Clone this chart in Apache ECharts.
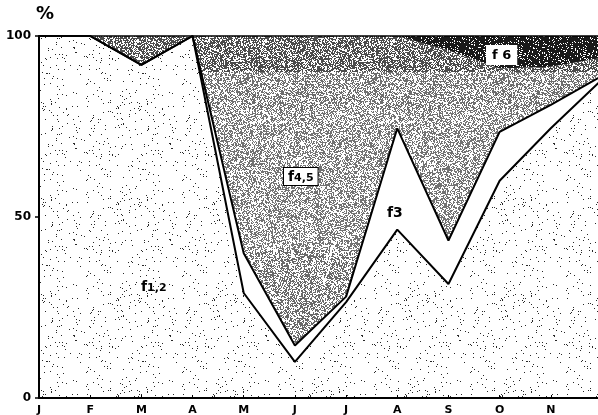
<!DOCTYPE html>
<html>
<head>
<meta charset="utf-8">
<script src="https://cdn.jsdelivr.net/npm/echarts@6/dist/echarts.min.js"></script>
<style>
  html, body { margin: 0; padding: 0; background: #fff; }
  #chart { width: 598px; height: 415px; }
</style>
</head>
<body>
<div id="chart"></div>
<script>
// Monthly share (%) of each fraction, stacked from the bottom
const months = ['Jan', 'Feb', 'Mar', 'Apr', 'May', 'Jun', 'Jul', 'Aug', 'Sep', 'Oct', 'Nov', 'Dec'];
const monthLabels = ['J', 'F', 'M', 'A', 'M', 'J', 'J', 'A', 'S', 'O', 'N', 'D'];
const f12 = [100, 100, 92, 100, 29, 10, 26.5, 46.5, 31.5, 60, 74.5, 88];
const f3  = [0, 0, 0, 0, 11, 4.5, 1.5, 28, 12, 13.5, 6.5, 1];
const f45 = [0, 0, 8, 0, 60, 85.5, 72, 25.5, 52.5, 17.5, 10.5, 5];
const f6  = [0, 0, 0, 0, 0, 0, 0, 0, 4, 9, 8.5, 6];
const yTicks = ['0', '50', '100'];

// Deterministic hash used for the stipple / screen textures
function hash(x, y) {
  const s = Math.sin(x * 12.9898 + y * 78.233) * 43758.5453;
  return s - Math.floor(s);
}
function makePattern(w, h, shade) {
  const c = document.createElement('canvas');
  c.width = w; c.height = h;
  const ctx = c.getContext('2d');
  const img = ctx.createImageData(w, h);
  for (let y = 0; y < h; y++) {
    const [p, dark] = shade(y);
    for (let x = 0; x < w; x++) {
      const v = hash(x + 0.37, y + 0.71) < p ? dark : 255;
      const i = (y * w + x) * 4;
      img.data[i] = v; img.data[i + 1] = v; img.data[i + 2] = v; img.data[i + 3] = 255;
    }
  }
  ctx.putImageData(img, 0, 0);
  return { image: c, repeat: 'repeat' };
}

// sparse stipple for f1,2
const stipple = makePattern(96, 96, () => [0.03, 40]);
// halftone screen for f4,5, darker near the top
const screen = makePattern(128, 415, y => {
  if (y < 72) return [0.6, 75];
  if (y < 110) return [0.5, 110];
  if (y < 250) return [0.48, 115];
  return [0.5, 105];
});
// near-solid dark for f6
const darkFill = makePattern(64, 64, () => [0.85, 25]);

const chart = echarts.init(document.getElementById('chart'), null, { renderer: 'canvas' });

const labelFont = { fontFamily: 'DejaVu Sans', fontWeight: 'bold', color: '#000' };

chart.setOption({
  animation: false,
  backgroundColor: '#fff',
  grid: { left: 39, right: -4, top: 36, bottom: 17, containLabel: false, outerBoundsMode: 'none' },
  xAxis: [
    {
      type: 'category',
      data: months,
      boundaryGap: false,
      axisLine: { lineStyle: { color: '#000', width: 2 } },
      axisTick: { show: true, inside: true, length: 3, interval: 0, lineStyle: { color: '#000', width: 1 } },
      axisLabel: {
        interval: 0, margin: 7, fontSize: 11, verticalAlign: 'top', hideOverlap: false,
        showMaxLabel: true, showMinLabel: true,
        formatter: (v, i) => monthLabels[i], ...labelFont
      },
      splitLine: { show: false },
      z: 10
    },
    {
      type: 'category',
      data: months,
      position: 'top',
      boundaryGap: false,
      axisLine: { lineStyle: { color: '#000', width: 1.5 } },
      axisTick: { show: false },
      axisLabel: { show: false },
      z: 10
    }
  ],
  yAxis: {
    type: 'value',
    min: 0, max: 100, interval: 50,
    axisLine: { show: true, lineStyle: { color: '#000', width: 2 } },
    axisTick: { show: true, length: 4, lineStyle: { color: '#000', width: 1.5 } },
    axisLabel: { margin: 8, fontSize: 12, formatter: v => yTicks[v / 50], ...labelFont },
    splitLine: { show: false },
    z: 10
  },
  series: [
    {
      name: 'f1,2', type: 'line', stack: 'total', data: f12, symbol: 'none',
      lineStyle: { color: '#000', width: 2 },
      areaStyle: { color: stipple, opacity: 1 }
    },
    {
      name: 'f3', type: 'line', stack: 'total', data: f3, symbol: 'none',
      lineStyle: { color: '#000', width: 2 },
      areaStyle: { color: '#fff', opacity: 1 }
    },
    {
      name: 'f4,5', type: 'line', stack: 'total', data: f45, symbol: 'none',
      lineStyle: { width: 0, opacity: 0 },
      areaStyle: { color: screen, opacity: 1 }
    },
    {
      name: 'f6', type: 'line', stack: 'total', data: f6, symbol: 'none',
      lineStyle: { width: 0, opacity: 0 },
      areaStyle: { color: darkFill, opacity: 1 }
    }
  ],
  graphic: [
    { type: 'text', left: 36, top: 5, z: 20,
      style: { text: '%', font: 'bold 18px "DejaVu Sans"', fill: '#000' } },
    { type: 'text', left: 141, top: 280, z: 20,
      style: {
        text: '{a|f}{b|1,2}',
        rich: {
          a: { font: 'bold 14px "DejaVu Sans"', fill: '#000' },
          b: { font: 'bold 11px "DejaVu Sans"', fill: '#000', padding: [2, 0, 0, 0] }
        }
      } },
    { type: 'text', left: 283, top: 167, z: 20,
      style: {
        text: '{a|f}{b|4,5}',
        backgroundColor: '#fff', borderColor: '#000', borderWidth: 1,
        padding: [2, 4, 1, 4],
        rich: {
          a: { font: 'bold 14px "DejaVu Sans"', fill: '#000' },
          b: { font: 'bold 11px "DejaVu Sans"', fill: '#000', padding: [2, 0, 0, 0] }
        }
      } },
    { type: 'text', left: 387, top: 206, z: 20,
      style: { text: 'f3', font: 'bold 14px "DejaVu Sans"', fill: '#000' } },
    { type: 'text', left: 486, top: 45, z: 20,
      style: {
        text: 'f 6', font: 'bold 13px "DejaVu Sans"', fill: '#000',
        backgroundColor: '#fff', padding: [4, 6, 3, 6]
      } }
  ]
});
</script>
</body>
</html>
